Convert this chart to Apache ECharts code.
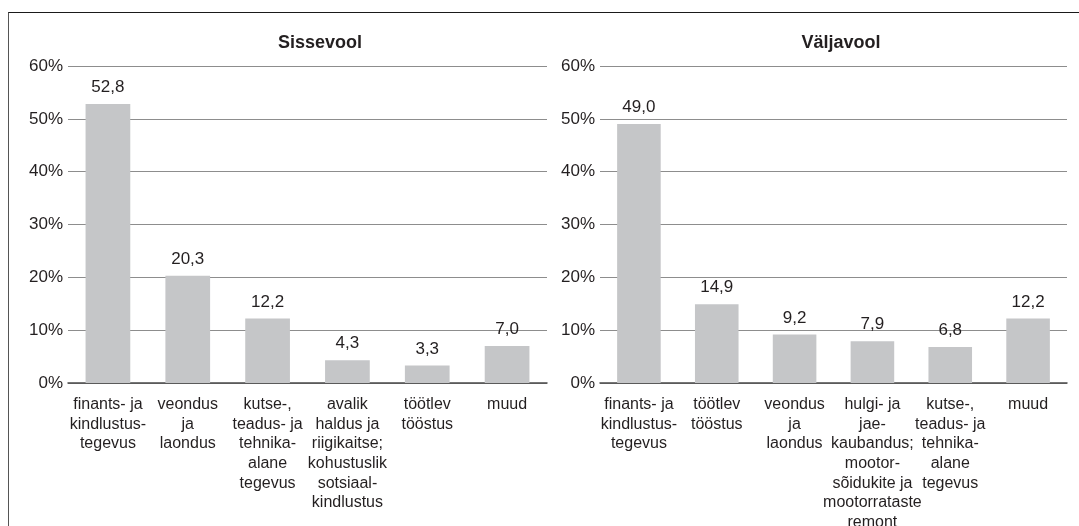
<!DOCTYPE html>
<html>
<head>
<meta charset="utf-8">
<script src="https://cdn.jsdelivr.net/npm/echarts@6/dist/echarts.min.js"></script>
<style>
    html, body {
        margin: 0;
        padding: 0;
        background: #fff;
    }
    /* raam ümber joonise (üla- ja vasak serv) */
    .frame {
        position: absolute;
        left: 8px;
        top: 12px;
        width: 1071px;
        height: 514px;
        border-top: 1.5px solid #1a1a1a;
        border-left: 1.5px solid #555;
    }
    .echartsBox {
        position: absolute;
        left: 0;
        top: 0;
        width: 1079px;
        height: 526px;
    }
</style>
</head>
<body>
<div class="frame"></div>
<div class="echartsBox" id="chart"></div>
<script>
// Sissevool
const inflowCategories = [
    "finants- ja\nkindlustus-\ntegevus",
    "veondus\nja\nlaondus",
    "kutse-,\nteadus- ja\ntehnika-\nalane\ntegevus",
    "avalik\nhaldus ja\nriigikaitse;\nkohustuslik\nsotsiaal-\nkindlustus",
    "töötlev\ntööstus",
    "muud"
];
const inflowValues = [52.8, 20.3, 12.2, 4.3, 3.3, 7.0];

// Väljavool
const outflowCategories = [
    "finants- ja\nkindlustus-\ntegevus",
    "töötlev\ntööstus",
    "veondus\nja\nlaondus",
    "hulgi- ja\njae-\nkaubandus;\nmootor-\nsõidukite ja\nmootorrataste\nremont",
    "kutse-,\nteadus- ja\ntehnika-\nalane\ntegevus",
    "muud"
];
const outflowValues = [49.0, 14.9, 9.2, 7.9, 6.8, 12.2];

const yTicks = { min: 0, max: 60, interval: 10 };

const FONT = "Liberation Sans";
const TEXT = "#231f20";
const BAR = "#c5c6c8";
const GRIDLINE = "#8d8d8d";

const chart = echarts.init(document.getElementById("chart"), null, { renderer: "canvas" });

function xAxis(idx, data) {
    return {
        type: "category",
        gridIndex: idx,
        data: data,
        axisTick: { show: false },
        axisLine: { show: true, lineStyle: { color: "#4a4a4a", width: 1.5 } },
        axisLabel: {
            interval: 0,
            margin: 12,
            color: TEXT,
            fontFamily: FONT,
            fontSize: 16,
            lineHeight: 19.6,
            align: "center"
        }
    };
}

function yAxis(idx) {
    return {
        type: "value",
        gridIndex: idx,
        min: yTicks.min,
        max: yTicks.max,
        interval: yTicks.interval,
        axisLine: { show: false },
        axisTick: { show: false },
        splitLine: { lineStyle: { color: GRIDLINE, width: 1 } },
        axisLabel: {
            margin: 5,
            color: TEXT,
            fontFamily: FONT,
            fontSize: 17,
            formatter: "{value}%"
        }
    };
}

function barSeries(idx, values) {
    return {
        type: "bar",
        xAxisIndex: idx,
        yAxisIndex: idx,
        data: values,
        barWidth: "56%",
        itemStyle: { color: BAR },
        label: {
            show: true,
            position: "top",
            distance: 8,
            color: TEXT,
            fontFamily: FONT,
            fontSize: 17,
            formatter: (p) => p.value.toFixed(1).replace(".", ",")
        },
        silent: true,
        animation: false
    };
}

chart.setOption({
    animation: false,
    title: [
        {
            text: "Sissevool",
            left: 315,
            top: 29,
            textAlign: "center",
            textStyle: { fontFamily: FONT, fontSize: 18, fontWeight: "bold", color: TEXT }
        },
        {
            text: "Väljavool",
            left: 836,
            top: 29,
            textAlign: "center",
            textStyle: { fontFamily: FONT, fontSize: 18, fontWeight: "bold", color: TEXT }
        }
    ],
    grid: [
        { left: 68, right: 532, top: 66, bottom: 143, outerBoundsMode: "none", containLabel: false },
        { left: 600, right: 12, top: 66, bottom: 143, outerBoundsMode: "none", containLabel: false }
    ],
    xAxis: [xAxis(0, inflowCategories), xAxis(1, outflowCategories)],
    yAxis: [yAxis(0), yAxis(1)],
    series: [barSeries(0, inflowValues), barSeries(1, outflowValues)]
});
</script>
</body>
</html>
